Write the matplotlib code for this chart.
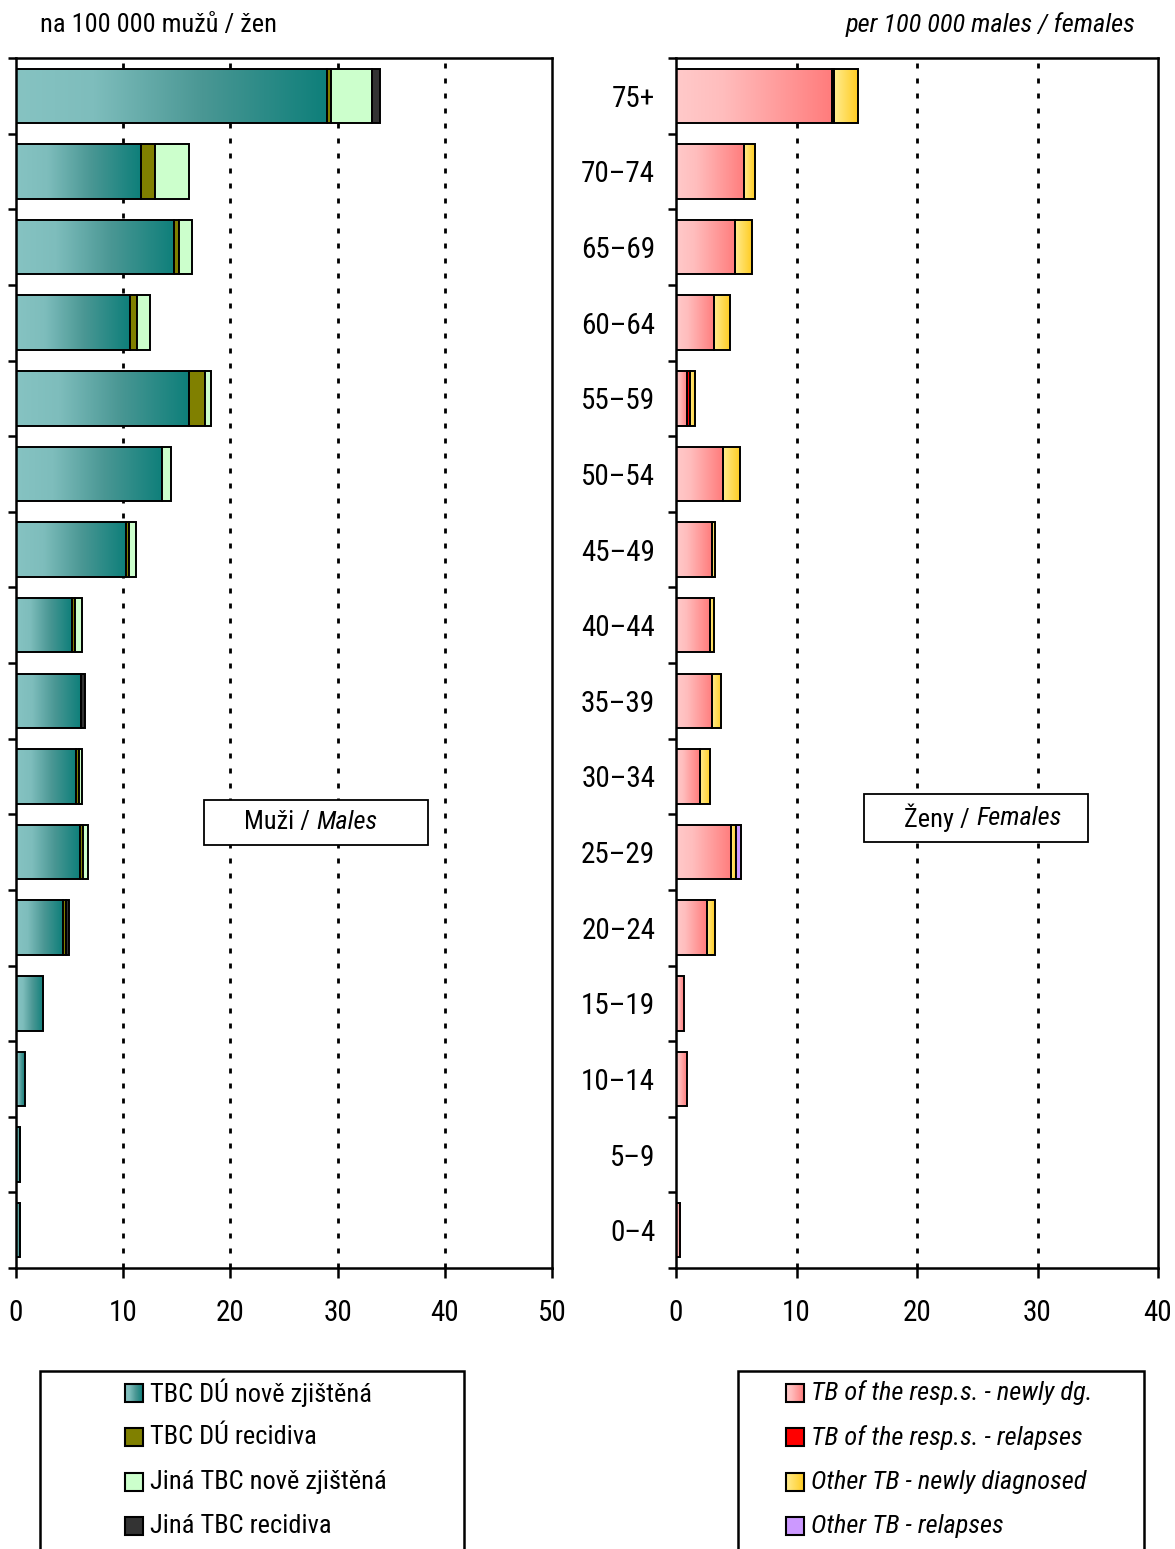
import numpy as np
import matplotlib
matplotlib.use("Agg")
import matplotlib.pyplot as plt
from matplotlib import font_manager
from matplotlib.colors import LinearSegmentedColormap
from matplotlib.patches import Rectangle

# ---- fonts: prefer a narrow sans face, else a regular one at smaller size --
_names = sorted({f.name for f in font_manager.fontManager.ttflist})
_narrow_pref = ["Liberation Sans Narrow", "Arial Narrow", "Roboto Condensed",
                "Open Sans Condensed", "Noto Sans Condensed", "DejaVu Sans Condensed"]
_narrow = [n for n in _narrow_pref if n in _names]
if not _narrow:
    _narrow = [n for n in _names if ("Narrow" in n or "Condensed" in n)
               and "Mono" not in n and "Serif" not in n]
if _narrow:
    FONT, SCALE = _narrow[0], 1.0
else:
    FONT, SCALE = "Liberation Sans", 0.88
plt.rcParams["font.family"] = [FONT, "DejaVu Sans"]

TICK_FS = 21 * SCALE
TEXT_FS = 19 * SCALE

# ---- data (rate per 100 000), age groups from youngest to oldest --------
ages = ["0–4", "5–9", "10–14", "15–19", "20–24", "25–29", "30–34", "35–39",
        "40–44", "45–49", "50–54", "55–59", "60–64", "65–69", "70–74", "75+"]

# males
resp_new_m = [0.4, 0.4, 0.8, 2.55, 4.35, 5.97, 5.57, 6.06, 5.22, 10.26, 13.65, 16.11, 10.63, 14.77, 11.66, 29.0]
resp_rel_m = [0, 0, 0, 0, 0.28, 0.31, 0.33, 0, 0.3, 0.31, 0, 1.55, 0.63, 0.44, 1.34, 0.4]
other_new_m = [0, 0, 0, 0, 0, 0.47, 0.29, 0, 0.66, 0.62, 0.84, 0.53, 1.24, 1.25, 3.17, 3.8]
other_rel_m = [0, 0, 0, 0, 0.34, 0, 0, 0.35, 0, 0, 0, 0, 0, 0, 0, 0.8]

# females
resp_new_f = [0.36, 0, 0.91, 0.66, 2.55, 4.57, 1.97, 2.99, 2.82, 2.96, 3.88, 0.94, 3.18, 4.9, 5.68, 12.93]
resp_rel_f = [0, 0, 0, 0, 0, 0, 0, 0, 0, 0, 0, 0.22, 0, 0, 0, 0.22]
other_new_f = [0, 0, 0, 0, 0.66, 0.41, 0.88, 0.77, 0.36, 0.28, 1.41, 0.42, 1.31, 1.41, 0.91, 1.94]
other_rel_f = [0, 0, 0, 0, 0, 0.42, 0, 0, 0, 0, 0, 0, 0, 0, 0, 0]

labels_m = ["TBC DÚ nově zjištěná", "TBC DÚ recidiva",
            "Jiná TBC nově zjištěná", "Jiná TBC recidiva"]
labels_f = ["TB of the resp.s. - newly dg.", "TB of the resp.s. - relapses",
            "Other TB - newly diagnosed", "Other TB - relapses"]

# ---- styles ---------------------------------------------------------------
teal = LinearSegmentedColormap.from_list(
    "teal", [(0, "#86C3C2"), (0.25, "#7EBDBC"), (0.6, "#4A9794"), (1, "#0E7F7A")])
pink = LinearSegmentedColormap.from_list(
    "pink", [(0, "#FFCACA"), (0.3, "#FFBDBD"), (1, "#FF7C7C")])
gold = LinearSegmentedColormap.from_list(
    "gold", [(0, "#FFEC90"), (1, "#FFCC22")])

styles_m = [teal, "#808000", "#CCFFCC", "#333333"]
styles_f = [pink, "#FF0000", gold, "#CC99FF"]

W, H = 1175, 1549
fig = plt.figure(figsize=(W / 100, H / 100), dpi=100)
BAR_H = 0.72
EDGE = 1.4


def fill_gradient(ax, patch, cmap):
    x0, y0 = patch.get_x(), patch.get_y()
    im = ax.imshow(np.linspace(0, 1, 256)[None, :], cmap=cmap, aspect="auto",
                   extent=(x0, x0 + patch.get_width(), y0, y0 + patch.get_height()),
                   interpolation="bilinear", zorder=2)
    im.set_clip_path(patch)


def draw_panel(ax, series, styles, xmax, show_labels):
    y = np.arange(len(ages))
    left = np.zeros(len(ages))
    for vals, style in zip(series, styles):
        vals = np.asarray(vals, dtype=float)
        is_grad = not isinstance(style, str)
        bars = ax.barh(y, vals, left=left, height=BAR_H,
                       facecolor="none" if is_grad else style,
                       edgecolor="black", linewidth=EDGE, zorder=3)
        for bar, v in zip(bars, vals):
            if v <= 0:
                bar.set_visible(False)
            elif is_grad:
                fill_gradient(ax, bar, style)
        left += vals

    ax.set_xlim(0, xmax)
    ax.set_ylim(-0.5, len(ages) - 0.5)
    ticks = np.arange(0, xmax + 1, 10)
    ax.set_xticks(ticks)
    for t in ticks[1:-1]:
        ax.axvline(t, color="black", lw=2.0, ls=(0, (1.8, 3.6)), zorder=1)

    ax.set_yticks(y, ages if show_labels else [""] * len(ages))
    ax.set_yticks(np.arange(-0.5, len(ages), 1), minor=True)
    ax.tick_params(axis="y", which="major", length=0, pad=15, labelsize=TICK_FS)
    ax.tick_params(axis="y", which="minor", length=6, width=1.8, direction="out")
    ax.tick_params(axis="x", which="major", length=7, width=1.8, direction="out",
                   pad=15, labelsize=TICK_FS)
    for sp in ax.spines.values():
        sp.set_linewidth(1.8)


def fx(px):
    return px / W


def fy(py):
    return 1 - py / H


ax_m = fig.add_axes([fx(16), fy(1268), fx(552) - fx(16), fy(58) - fy(1268)])
ax_f = fig.add_axes([fx(676), fy(1268), fx(1158) - fx(676), fy(58) - fy(1268)])

draw_panel(ax_m, [resp_new_m, resp_rel_m, other_new_m, other_rel_m], styles_m, 50, False)
draw_panel(ax_f, [resp_new_f, resp_rel_f, other_new_f, other_rel_f], styles_f, 40, True)


def panel_box(ax, x0, x1, y0, y1, upright, italic):
    ax.add_patch(Rectangle((x0, y0), x1 - x0, y1 - y0, transform=ax.transAxes,
                           facecolor="white", edgecolor="black", lw=1.3, zorder=5))
    ax.text((x0 + x1) / 2, (y0 + y1) / 2, upright + " / ", transform=ax.transAxes,
            ha="right", va="center", fontsize=TEXT_FS, zorder=6)
    ax.text((x0 + x1) / 2, (y0 + y1) / 2, italic, transform=ax.transAxes,
            ha="left", va="center", fontsize=TEXT_FS, style="italic", zorder=6)


panel_box(ax_m, 0.3507, 0.7687, 0.3496, 0.3868, "Muži", "Males")
panel_box(ax_f, 0.390, 0.8548, 0.352, 0.3917, "Ženy", "Females")

# ---- overlay in pixel coordinates for headings and legends ----------------
ov = fig.add_axes([0, 0, 1, 1], zorder=-1)
ov.set_axis_off()

fig.text(fx(40), fy(25), "na 100 000 mužů / žen", fontsize=TEXT_FS, ha="left", va="center")
fig.text(fx(1135), fy(25), "per 100 000 males / females", fontsize=TEXT_FS,
         style="italic", ha="right", va="center")


def legend_block(x0, x1, mark_x, labels, styles, italic):
    ov.add_patch(Rectangle((x0, 1371), x1 - x0, 300, facecolor="white",
                           edgecolor="black", lw=1.8))
    for i, (lab, st) in enumerate(zip(labels, styles)):
        yc = 1393 + i * 44.3
        grad = not isinstance(st, str)
        sq = Rectangle((mark_x, yc - 9), 18, 18, facecolor="none" if grad else st,
                       edgecolor="black", lw=1.5, zorder=4)
        ov.add_patch(sq)
        if grad:
            im = ov.imshow(np.linspace(0, 1, 64)[None, :], cmap=st, aspect="auto",
                           extent=(mark_x, mark_x + 18, yc + 9, yc - 9), zorder=3)
            im.set_clip_path(sq)
        ov.text(mark_x + 25, yc, lab, fontsize=TEXT_FS, ha="left", va="center",
                style="italic" if italic else "normal")


legend_block(40, 464, 125, labels_m, styles_m, False)
legend_block(738, 1144, 786, labels_f, styles_f, True)
ov.set_xlim(0, W)
ov.set_ylim(H, 0)

fig.savefig("out.png", dpi=100)
